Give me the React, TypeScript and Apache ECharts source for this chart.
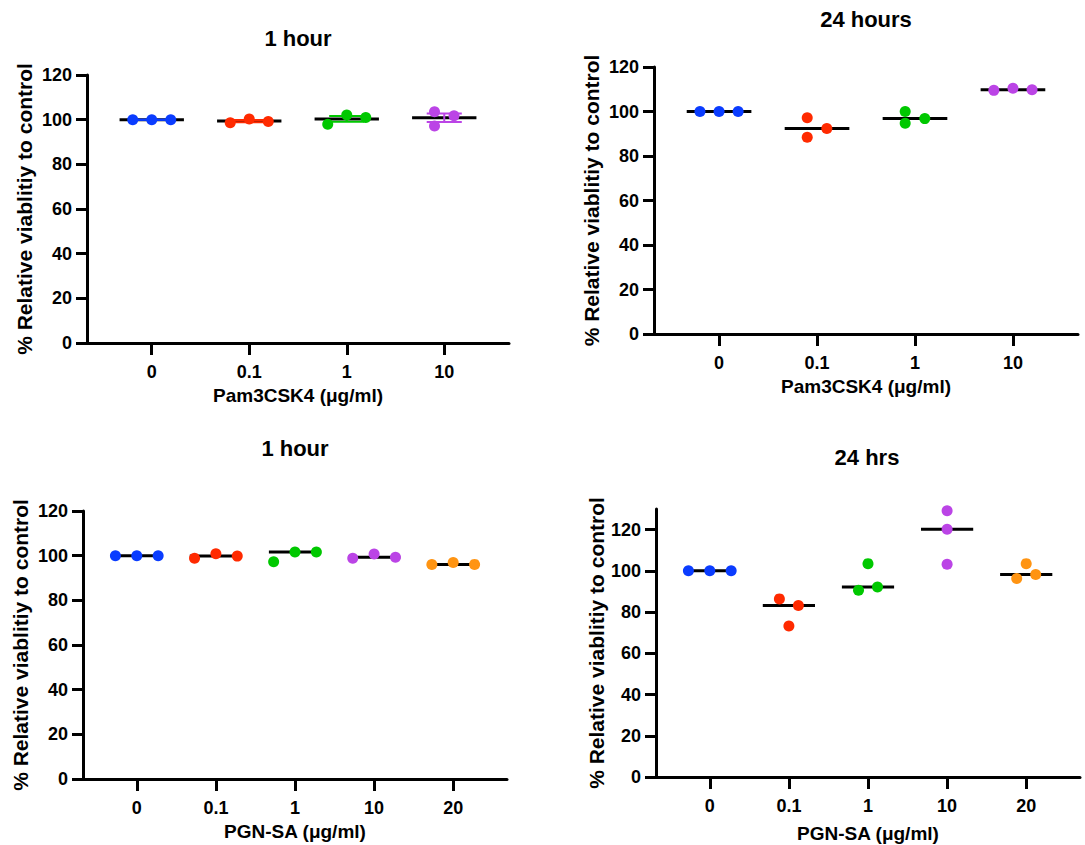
import React, { useEffect, useRef } from "react";
import * as echarts from "echarts";

// ---------- data ----------
const PAM_CATEGORIES = ["0", "0.1", "1", "10"];
const PGN_CATEGORIES = ["0", "0.1", "1", "10", "20"];
const Y_TICKS = [0, 20, 40, 60, 80, 100, 120];

// Panel 1: Pam3CSK4, 1 hour (mean ± SEM)
const P1_DOSE_0 = [100, 100, 100];
const P1_DOSE_01 = [98.6, 100.3, 99.2];
const P1_DOSE_1 = [97.9, 102.1, 101.0];
const P1_DOSE_10 = [103.5, 97.2, 101.8];

// Panel 2: Pam3CSK4, 24 hours (median)
const P2_DOSE_0 = [100, 100, 100];
const P2_DOSE_01 = [97.2, 88.4, 92.4];
const P2_DOSE_1 = [100.0, 94.7, 96.8];
const P2_DOSE_10 = [109.5, 110.4, 109.8];

// Panel 3: PGN-SA, 1 hour (median)
const P3_DOSE_0 = [100, 100, 100];
const P3_DOSE_01 = [98.8, 100.9, 99.8];
const P3_DOSE_1 = [97.3, 101.6, 101.6];
const P3_DOSE_10 = [98.8, 100.7, 99.3];
const P3_DOSE_20 = [96.0, 96.9, 96.1];

// Panel 4: PGN-SA, 24 hrs (median)
const P4_DOSE_0 = [100, 100, 100];
const P4_DOSE_01 = [86.4, 73.3, 83.2];
const P4_DOSE_1 = [90.6, 103.5, 92.2];
const P4_DOSE_10 = [129.1, 120.2, 103.2];
const P4_DOSE_20 = [96.3, 103.5, 98.2];

// ---------- layout / style (not data) ----------
const COLORS = ["#0a3cff", "#ff2a00", "#00c800", "#bb44e6", "#ff9412"];
const FONT = "'Liberation Sans', Arial, Helvetica, sans-serif";
const WIDE = [-0.195, 0, 0.195];
const NARROW = [-0.1, -0.1, 0.1];

type Panel = {
  title: string;
  titleX: number;
  titleY: number;
  xName: string;
  categories: string[];
  groups: number[][];
  jitter: number[][];
  stat: "mean" | "median";
  errorBars: boolean;
  grid: { left: number; top: number; width: number; height: number };
  xPad: number;
  yMax: number;
  xNameGap: number;
  yNameGap: number;
};

const PANELS: Panel[] = [
  {
    title: "1 hour", titleX: 298, titleY: 38, xName: "Pam3CSK4 (μg/ml)",
    categories: PAM_CATEGORIES,
    groups: [P1_DOSE_0, P1_DOSE_01, P1_DOSE_1, P1_DOSE_10],
    jitter: [WIDE, WIDE, WIDE, NARROW],
    stat: "mean", errorBars: true,
    grid: { left: 87, top: 75, width: 422, height: 268 },
    xPad: 0.664, yMax: 120, xNameGap: 43, yNameGap: 52,
  },
  {
    title: "24 hours", titleX: 866, titleY: 19, xName: "Pam3CSK4 (μg/ml)",
    categories: PAM_CATEGORIES,
    groups: [P2_DOSE_0, P2_DOSE_01, P2_DOSE_1, P2_DOSE_10],
    jitter: [WIDE, NARROW, NARROW, WIDE],
    stat: "median", errorBars: false,
    grid: { left: 654, top: 67, width: 424, height: 267 },
    xPad: 0.664, yMax: 120, xNameGap: 43, yNameGap: 52,
  },
  {
    title: "1 hour", titleX: 295, titleY: 448, xName: "PGN-SA (μg/ml)",
    categories: PGN_CATEGORIES,
    groups: [P3_DOSE_0, P3_DOSE_01, P3_DOSE_1, P3_DOSE_10, P3_DOSE_20],
    jitter: [
      [-0.27, 0, 0.27], [-0.27, 0, 0.27], [-0.27, 0, 0.27], [-0.27, 0, 0.27], [-0.27, 0, 0.27],
    ],
    stat: "median", errorBars: false,
    grid: { left: 83, top: 511, width: 424, height: 268 },
    xPad: 0.68, yMax: 120, xNameGap: 43, yNameGap: 52,
  },
  {
    title: "24 hrs", titleX: 867, titleY: 457, xName: "PGN-SA (μg/ml)",
    categories: PGN_CATEGORIES,
    groups: [P4_DOSE_0, P4_DOSE_01, P4_DOSE_1, P4_DOSE_10, P4_DOSE_20],
    jitter: [
      [-0.27, 0, 0.27], [-0.12, 0, 0.12], [-0.12, 0, 0.12], [0, 0, 0], [-0.12, 0, 0.12],
    ],
    stat: "median", errorBars: false,
    grid: { left: 656, top: 509, width: 424, height: 268 },
    xPad: 0.68, yMax: 130, xNameGap: 47, yNameGap: 49,
  },
];

function mean(a: number[]) {
  return a.reduce((s, v) => s + v, 0) / a.length;
}
function median(a: number[]) {
  const s = [...a].sort((x, y) => x - y);
  const m = Math.floor(s.length / 2);
  return s.length % 2 ? s[m] : (s[m - 1] + s[m]) / 2;
}
function sem(a: number[]) {
  const m = mean(a);
  const sd = Math.sqrt(a.reduce((s, v) => s + (v - m) * (v - m), 0) / (a.length - 1));
  return sd / Math.sqrt(a.length);
}

function buildOption() {
  const title: any[] = [];
  const grid: any[] = [];
  const xAxis: any[] = [];
  const yAxis: any[] = [];
  const series: any[] = [];

  PANELS.forEach((p, pi) => {
    title.push({
      text: p.title,
      left: p.titleX,
      top: p.titleY - 11,
      padding: 0,
      textAlign: "center",
      textStyle: { fontFamily: FONT, fontWeight: "bold", fontSize: 22, color: "#000" },
    });
    grid.push({ ...p.grid, containLabel: false });
    const n = p.categories.length;
    const idx = p.categories.map((_, i) => i);
    xAxis.push({
      type: "value",
      gridIndex: pi,
      min: -p.xPad,
      max: n - 1 + p.xPad,
      name: p.xName,
      nameLocation: "middle",
      nameGap: p.xNameGap,
      nameTextStyle: { fontFamily: FONT, fontWeight: "bold", fontSize: 19, color: "#000" },
      splitLine: { show: false },
      axisLine: { show: true, onZero: false, lineStyle: { color: "#000", width: 3 } },
      axisTick: { show: true, customValues: idx, length: 12, lineStyle: { color: "#000", width: 3 } },
      axisLabel: {
        customValues: idx,
        margin: 20,
        formatter: (v: number) => p.categories[Math.round(v)] ?? "",
        fontFamily: FONT, fontWeight: "bold", fontSize: 18, color: "#000",
      },
    });
    yAxis.push({
      type: "value",
      gridIndex: pi,
      min: 0,
      max: p.yMax,
      name: "% Relative viablitiy to control",
      nameLocation: "middle",
      nameRotate: 90,
      nameGap: p.yNameGap,
      nameTextStyle: { fontFamily: FONT, fontWeight: "bold", fontSize: 21, color: "#000" },
      splitLine: { show: false },
      axisLine: { show: true, onZero: false, lineStyle: { color: "#000", width: 3 } },
      axisTick: { show: true, customValues: Y_TICKS, length: 11, lineStyle: { color: "#000", width: 3 } },
      axisLabel: {
        customValues: Y_TICKS,
        margin: 15,
        fontFamily: FONT, fontWeight: "bold", fontSize: 18, color: "#000",
      },
    });

    // center lines (mean or median)
    series.push({
      type: "custom",
      xAxisIndex: pi,
      yAxisIndex: pi,
      z: 3,
      silent: true,
      data: p.groups.map((g, i) => [i, p.stat === "mean" ? mean(g) : median(g)]),
      renderItem: (_params: any, api: any) => {
        const i = api.value(0);
        const m = api.value(1);
        const a = api.coord([i - 0.33, m]);
        const b = api.coord([i + 0.33, m]);
        return {
          type: "line",
          shape: { x1: a[0], y1: a[1], x2: b[0], y2: b[1] },
          style: { stroke: "#000", lineWidth: 3 },
        };
      },
    });

    if (p.errorBars) {
      series.push({
        type: "custom",
        xAxisIndex: pi,
        yAxisIndex: pi,
        z: 4,
        silent: true,
        data: p.groups.map((g, i) => [i, mean(g) - sem(g), mean(g) + sem(g)]),
        renderItem: (params: any, api: any) => {
          const i = api.value(0);
          const lo = api.value(1);
          const hi = api.value(2);
          const color = COLORS[params.dataIndex];
          const top = api.coord([i, hi]);
          const bot = api.coord([i, lo]);
          const tl = api.coord([i - 0.18, hi]);
          const tr = api.coord([i + 0.18, hi]);
          const bl = api.coord([i - 0.18, lo]);
          const br = api.coord([i + 0.18, lo]);
          const style = { stroke: color, lineWidth: 2 };
          return {
            type: "group",
            children: [
              { type: "line", shape: { x1: top[0], y1: top[1], x2: bot[0], y2: bot[1] }, style },
              { type: "line", shape: { x1: tl[0], y1: tl[1], x2: tr[0], y2: tr[1] }, style },
              { type: "line", shape: { x1: bl[0], y1: bl[1], x2: br[0], y2: br[1] }, style },
            ],
          };
        },
      });
    }

    p.groups.forEach((g, i) => {
      series.push({
        type: "scatter",
        xAxisIndex: pi,
        yAxisIndex: pi,
        z: 5,
        symbol: "circle",
        symbolSize: 11,
        itemStyle: { color: COLORS[i], opacity: 1 },
        data: g.map((v, k) => [i + p.jitter[i][k], v]),
      });
    });
  });

  return { animation: false, backgroundColor: "#fff", title, grid, xAxis, yAxis, series };
}

export default function App() {
  const ref = useRef<HTMLDivElement>(null);
  useEffect(() => {
    if (!ref.current) return;
    const chart = echarts.init(ref.current, undefined, { renderer: "svg" });
    chart.setOption(buildOption() as any);
    return () => chart.dispose();
  }, []);
  return (
    <div
      ref={ref}
      style={{ position: "fixed", left: 0, top: 0, width: 1085, height: 845, background: "#fff" }}
    />
  );
}
